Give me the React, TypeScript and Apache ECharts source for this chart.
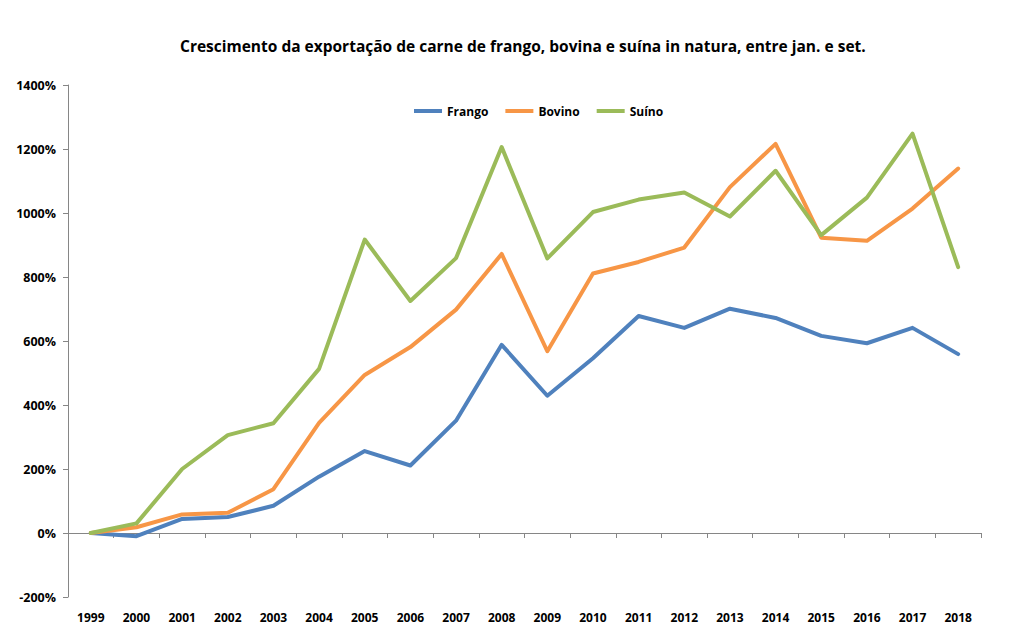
import React, { useEffect, useRef } from "react";
import * as echarts from "echarts";

const years = [
  "1999", "2000", "2001", "2002", "2003", "2004", "2005", "2006", "2007", "2008",
  "2009", "2010", "2011", "2012", "2013", "2014", "2015", "2016", "2017", "2018",
];

const frango = [0, -10, 44, 50, 85, 176, 256, 211, 351, 588, 429, 546, 678, 641, 701, 672, 616, 593, 641, 559];
const bovino = [0, 18, 58, 63, 137, 344, 494, 581, 698, 872, 568, 811, 847, 892, 1081, 1216, 923, 913, 1014, 1139];
const suino = [0, 30, 200, 306, 343, 513, 917, 725, 859, 1206, 858, 1003, 1042, 1064, 989, 1132, 931, 1048, 1248, 831];

const title = "Crescimento da exportação de carne de frango, bovina e suína in natura, entre jan. e set.";

const FONT = "'Open Sans', 'Noto Sans', sans-serif";
const AXIS_COLOR = "#868686";

export default function App() {
  const ref = useRef<HTMLDivElement>(null);

  useEffect(() => {
    if (!ref.current) return;
    const chart = echarts.init(ref.current, undefined, { renderer: "svg" });
    const mk = (name: string, data: number[], color: string) => ({
      name,
      type: "line",
      data,
      xAxisIndex: 0,
      symbol: "none",
      lineStyle: { color, width: 4, cap: "round", join: "round" },
      itemStyle: { color },
    });
    chart.setOption({
      animation: false,
      backgroundColor: "#ffffff",
      title: {
        text: title,
        left: 175,
        top: 33,
        textStyle: { fontFamily: FONT, fontWeight: "bold", fontSize: 15.5, color: "#000" },
      },
      legend: {
        top: 100,
        left: 409,
        icon: "rect",
        itemWidth: 28,
        itemHeight: 4,
        itemGap: 17,
        textStyle: { fontFamily: FONT, fontWeight: "bold", fontSize: 12, color: "#000" },
        data: ["Frango", "Bovino", "Suíno"],
      },
      grid: { left: 68, right: 32, top: 85, bottom: 35, containLabel: false },
      xAxis: [
        {
          type: "category",
          data: years,
          boundaryGap: true,
          axisLine: { onZero: true, lineStyle: { color: AXIS_COLOR, width: 1 } },
          axisTick: { show: true, length: 5, inside: false, lineStyle: { color: AXIS_COLOR } },
          axisLabel: { show: false },
        },
        {
          type: "category",
          data: years,
          position: "bottom",
          boundaryGap: true,
          axisLine: { show: false, onZero: false },
          axisTick: { show: false },
          axisLabel: {
            margin: 14,
            fontFamily: FONT,
            fontWeight: "bold",
            fontSize: 12,
            color: "#000",
            interval: 0,
          },
        },
      ],
      yAxis: {
        type: "value",
        min: -200,
        max: 1400,
        interval: 200,
        axisLine: { show: true, lineStyle: { color: AXIS_COLOR, width: 1 } },
        axisTick: { show: true, length: 5, lineStyle: { color: AXIS_COLOR } },
        splitLine: { show: false },
        axisLabel: {
          formatter: (v: number) => `${v}%`,
          margin: 12,
          fontFamily: FONT,
          fontWeight: "bold",
          fontSize: 12.5,
          color: "#000",
        },
      },
      series: [
        mk("Frango", frango, "#4F81BD"),
        mk("Bovino", bovino, "#F79646"),
        mk("Suíno", suino, "#9BBB59"),
      ],
    });
    return () => chart.dispose();
  }, []);

  return <div ref={ref} style={{ width: 1013, height: 632, margin: -8 }} />;
}
